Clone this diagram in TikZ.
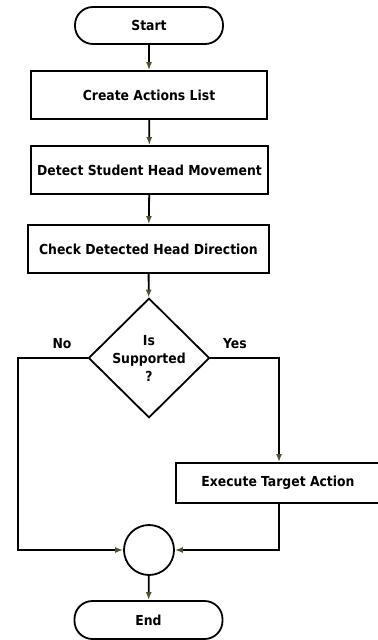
\documentclass[tikz,border=0pt]{standalone}
\usepackage{fontspec}
\setsansfont{DejaVu Sans Condensed}
\usetikzlibrary{arrows.meta,shapes.geometric}

\definecolor{tipgreen}{RGB}{74,84,44}

\begin{document}
\begin{tikzpicture}[
    x=1bp, y=-1bp,
    txt/.style={font=\sffamily\bfseries\fontsize{13.8bp}{18bp}\selectfont},
    box/.style={txt, draw, line width=1.8bp, minimum height=48bp, inner sep=0pt},
    term/.style={box, rounded corners=18bp, minimum width=148bp, minimum height=37bp},
    decision/.style={txt, draw, diamond, line width=1.8bp, inner sep=0pt,
      minimum width=121bp, minimum height=116bp, align=center},
    joint/.style={draw, circle, line width=1.8bp, minimum size=50bp, inner sep=0pt},
    arr/.style={line width=1.8bp, -{Latex[length=8bp,width=6bp,color=tipgreen]}}
  ]
    \useasboundingbox (0,0) rectangle (377,640);

    \node[term] (start) at (149,25.5) {Start};
    \node[box, minimum width=236bp] (create) at (149,95) {Create Actions List};
    \node[box, minimum width=237bp] (detect) at (149.5,170) {Detect Student Head Movement};
    \node[box, minimum width=241bp] (check) at (148.5,249) {Check Detected Head Direction};
    \node[decision] (dec) at (149,358) {Is\\Supported\\?};
    \node[box, minimum width=208bp, minimum height=40bp] (exec) at (280,483) {\hspace*{-4bp}Execute Target Action};
    \node[joint] (merge) at (149,550) {};
    \node[term, minimum height=38bp] (stop) at (148.5,620) {End};

    \coordinate (noturn) at (18,358);
    \coordinate (yesturn) at (279,358);

    \node[txt] (nolbl) at (62,344) {No};
    \node[txt] (yeslbl) at (235,344) {Yes};

    \foreach \a/\b in {start/create,create/detect,detect/check,check/dec,merge/stop}
      \draw[arr] (\a) -- (\b);

    \draw[arr] (dec.east) -- (yesturn) -- (yesturn |- exec.north);
    \draw[arr] (yesturn |- exec.south) -- (yesturn |- merge) -- (merge.east);
    \draw[arr] (dec.west) -- (noturn) -- (noturn |- merge) -- (merge.west);
  \end{tikzpicture}
\end{document}
